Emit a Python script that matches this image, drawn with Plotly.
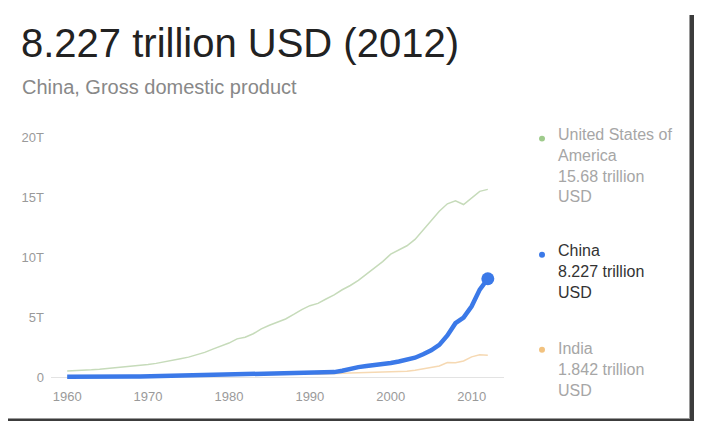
import plotly.graph_objects as go

W, H = 703, 424
OFF = 8  # default page margin of the html body
FIG_W, FIG_H = W - OFF, H - OFF
RIGHT = 694  # last visible pixel column of the page

years = list(range(1960, 2013))

# GDP, current USD, in trillions
usa_gdp = [
    0.543, 0.563, 0.605, 0.638, 0.686, 0.744, 0.815, 0.862, 0.943, 1.019,
    1.076, 1.168, 1.282, 1.429, 1.549, 1.689, 1.878, 2.086, 2.357, 2.632,
    2.863, 3.211, 3.345, 3.638, 4.041, 4.347, 4.590, 4.870, 5.253, 5.658,
    5.980, 6.174, 6.539, 6.879, 7.309, 7.664, 8.100, 8.609, 9.089, 9.661,
    10.285, 10.622, 10.978, 11.511, 12.275, 13.094, 13.856, 14.478, 14.719, 14.419,
    14.964, 15.518, 15.680,
]
china_gdp = [
    0.060, 0.050, 0.047, 0.051, 0.060, 0.070, 0.077, 0.072, 0.070, 0.079,
    0.092, 0.099, 0.112, 0.137, 0.142, 0.161, 0.151, 0.172, 0.148, 0.177,
    0.189, 0.194, 0.203, 0.228, 0.258, 0.307, 0.299, 0.272, 0.312, 0.348,
    0.357, 0.379, 0.423, 0.441, 0.559, 0.728, 0.856, 0.953, 1.020, 1.083,
    1.199, 1.325, 1.454, 1.641, 1.932, 2.257, 2.713, 3.494, 4.522, 4.990,
    5.931, 7.322, 8.227,
]
india_gdp = [
    0.037, 0.039, 0.042, 0.048, 0.056, 0.059, 0.046, 0.050, 0.053, 0.058,
    0.062, 0.067, 0.071, 0.085, 0.100, 0.098, 0.103, 0.122, 0.138, 0.153,
    0.184, 0.191, 0.199, 0.215, 0.208, 0.229, 0.245, 0.275, 0.293, 0.293,
    0.317, 0.267, 0.284, 0.276, 0.322, 0.356, 0.388, 0.410, 0.416, 0.452,
    0.462, 0.478, 0.508, 0.600, 0.722, 0.834, 0.949, 1.239, 1.224, 1.365,
    1.709, 1.881, 1.842,
]

x_ticks = [1960, 1970, 1980, 1990, 2000, 2010]
y_ticks = [0, 5, 10, 15, 20]
y_tick_labels = ["0", "5T", "10T", "15T", "20T"]

title = "8.227 trillion USD (2012)"
subtitle = "China, Gross domestic product"
legend_names = ["United States of<br>America", "China", "India"]
legend_values = ["15.68 trillion<br>USD", "8.227 trillion<br>USD", "1.842 trillion<br>USD"]

FONT = "Arial, 'Liberation Sans', sans-serif"
line_colors = ["#c6dbba", "#3b79e8", "#f6d9b3"]
dot_colors = ["#9fcb8c", "#3b79e8", "#f2c27f"]
text_colors = ["#a6a6a6", "#333333", "#a6a6a6"]


# positions below are given in pixels of the 703x424 window
def px_x(p):
    return (p - OFF) / FIG_W


def px_y(p):
    return 1 - (p - OFF) / FIG_H


fig = go.Figure()
fig.add_trace(go.Scatter(x=years, y=usa_gdp, mode="lines",
                         line=dict(color=line_colors[0], width=1.5), name="United States of America"))
fig.add_trace(go.Scatter(x=years, y=india_gdp, mode="lines",
                         line=dict(color=line_colors[2], width=1.5), name="India"))
fig.add_trace(go.Scatter(x=years, y=china_gdp, mode="lines",
                         line=dict(color=line_colors[1], width=4.5), name="China"))
fig.add_trace(go.Scatter(x=years[-1:], y=china_gdp[-1:], mode="markers",
                         marker=dict(color=line_colors[1], size=13), name="China 2012"))

# plot area: x 52..504 px, y zero at 377.5 px, 20T at 133 px
fig.update_layout(
    width=FIG_W, height=FIG_H,
    margin=dict(l=0, r=0, t=0, b=0),
    paper_bgcolor="white", plot_bgcolor="white",
    showlegend=False,
    font=dict(family=FONT),
    xaxis=dict(
        domain=[px_x(51), px_x(504)], range=[1958, 2014],
        tickvals=x_ticks, showgrid=False, zeroline=False, showline=False, ticks="",
        tickfont=dict(size=13, color="#9a9a9a"), ticklabelstandoff=4,
    ),
    yaxis=dict(
        domain=[px_y(383.6), px_y(133)], range=[-0.5, 20],
        tickvals=y_ticks, ticktext=y_tick_labels, showgrid=False,
        zeroline=True, zerolinecolor="#e3e3e3", zerolinewidth=1, showline=False, ticks="",
        tickfont=dict(size=13, color="#9a9a9a"), ticklabelstandoff=6,
    ),
)

fig.add_annotation(text=title, x=px_x(19), y=px_y(37), xref="paper", yref="paper",
                   xanchor="left", yanchor="middle", showarrow=False,
                   font=dict(size=40, color="#222222"))
fig.add_annotation(text=subtitle, x=px_x(20), y=px_y(81), xref="paper", yref="paper",
                   xanchor="left", yanchor="middle", showarrow=False,
                   font=dict(size=20, color="#888888"))

legend_tops = [119, 237, 337]
dot_ys = [134, 252.5, 349.3]
for i in range(3):
    fig.add_annotation(text=legend_names[i] + "<br>" + legend_values[i],
                       x=px_x(556), y=px_y(legend_tops[i]), xref="paper", yref="paper",
                       xanchor="left", yanchor="top", align="left", showarrow=False,
                       font=dict(size=16, color=text_colors[i]))
    fig.add_shape(type="circle", xref="paper", yref="paper",
                  x0=px_x(539), x1=px_x(545), y0=px_y(dot_ys[i] - 3), y1=px_y(dot_ys[i] + 3),
                  fillcolor=dot_colors[i], line=dict(width=0))

# screenshot frame shadow (right and bottom)
fig.add_shape(type="rect", xref="paper", yref="paper", x0=px_x(RIGHT - 5), x1=px_x(RIGHT - 4),
              y0=px_y(420), y1=px_y(OFF), fillcolor="#9a9a9a", line=dict(width=0))
fig.add_shape(type="rect", xref="paper", yref="paper", x0=px_x(RIGHT - 4), x1=px_x(RIGHT),
              y0=px_y(422), y1=px_y(OFF), fillcolor="#3c3c3c", line=dict(width=0))
fig.add_shape(type="rect", xref="paper", yref="paper", x0=px_x(OFF), x1=px_x(RIGHT - 4),
              y0=px_y(420), y1=px_y(419), fillcolor="#9a9a9a", line=dict(width=0))
fig.add_shape(type="rect", xref="paper", yref="paper", x0=px_x(OFF), x1=px_x(RIGHT),
              y0=px_y(422), y1=px_y(420), fillcolor="#3c3c3c", line=dict(width=0))

fig.write_html("out.html")
